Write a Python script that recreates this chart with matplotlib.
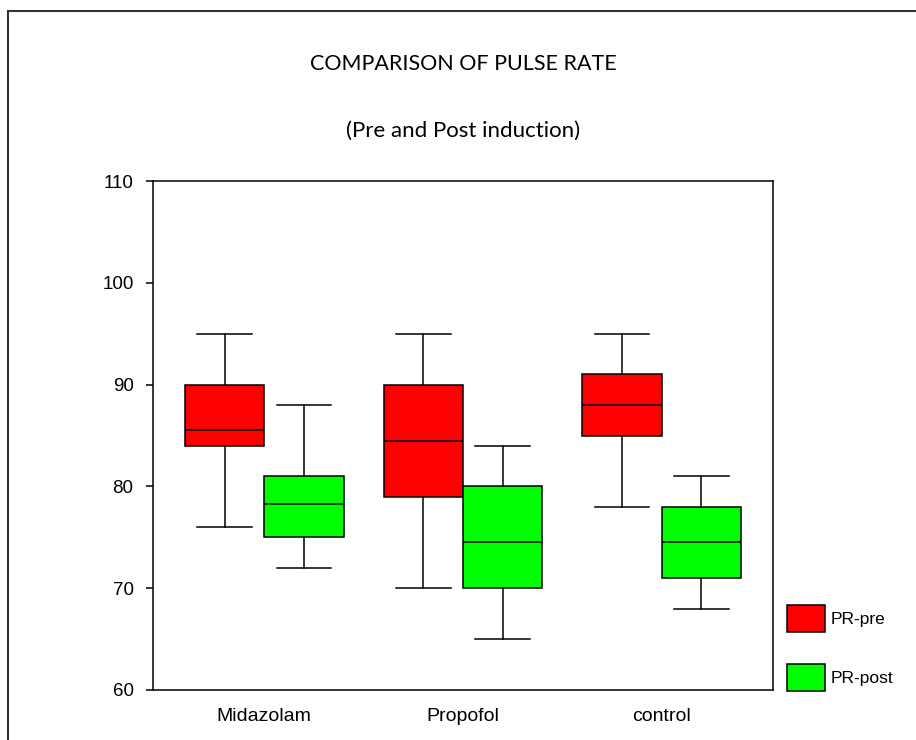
import matplotlib
matplotlib.use("Agg")
import matplotlib.pyplot as plt
from matplotlib.patches import Patch, Rectangle

groups = ["Midazolam", "Propofol", "control"]
series = ["PR-pre", "PR-post"]
colors = ["#ff0000", "#00ff00"]

# five-number summaries: low whisker, q1, median, q3, high whisker
pre_low = [76, 70, 78]
pre_q1 = [84, 79, 85]
pre_med = [85.5, 84.5, 88]
pre_q3 = [90, 90, 91]
pre_high = [95, 95, 95]

post_low = [72, 65, 68]
post_q1 = [75, 70, 71]
post_med = [78.3, 74.5, 74.5]
post_q3 = [81, 80, 78]
post_high = [88, 84, 81]

yticks = [60, 70, 80, 90, 100, 110]


def make_stats(low, q1, med, q3, high):
    return [dict(whislo=a, q1=b, med=c, q3=d, whishi=e, fliers=[])
            for a, b, c, d, e in zip(low, q1, med, q3, high)]


fig = plt.figure(figsize=(9.16, 7.40), dpi=100)
ax = fig.add_axes([153 / 916, 50 / 740, 620 / 916, 509 / 740])

all_stats = [make_stats(pre_low, pre_q1, pre_med, pre_q3, pre_high),
             make_stats(post_low, post_q1, post_med, post_q3, post_high)]
offsets = [-0.2, 0.2]
line = dict(color="black", linewidth=1.1)

for st, off, col in zip(all_stats, offsets, colors):
    pos = [i + off for i in range(len(groups))]
    ax.bxp(st, positions=pos, widths=0.4, capwidths=0.275, showfliers=False,
           patch_artist=True, manage_ticks=False,
           boxprops=dict(facecolor=col, edgecolor="black", linewidth=1.1),
           medianprops=line, whiskerprops=line, capprops=line)

ax.set_xlim(-0.56, 2.56)
ax.set_ylim(60, 110)
ax.set_yticks(yticks)
ax.set_yticklabels([str(v) for v in yticks], fontfamily="Liberation Sans", fontsize=13.5)
ax.set_xticks(range(len(groups)))
ax.set_xticklabels(groups, fontfamily="Liberation Sans", fontsize=14)
ax.tick_params(axis="y", length=5, width=1.1, pad=9, direction="out")
ax.tick_params(axis="x", length=0, pad=13)
for sp in ax.spines.values():
    sp.set_linewidth(1.1)

fig.text(463 / 916, 1 - 64 / 740, "COMPARISON OF PULSE RATE", ha="center", va="center",
         fontfamily="Lato", fontsize=15.5)
fig.text(463 / 916, 1 - 131 / 740, "(Pre and Post induction)", ha="center", va="center",
         fontfamily="Lato", fontsize=16)

handles = [Patch(facecolor=c, edgecolor="black", linewidth=1.1, label=s)
           for c, s in zip(colors, series)]
fig.legend(handles=handles, loc="upper left", bbox_to_anchor=(787 / 916, 1 - 605 / 740),
           frameon=False, borderpad=0, borderaxespad=0, handlelength=2.2,
           handleheight=2.04, labelspacing=1.84, handletextpad=0.3,
           prop=dict(family="Liberation Sans", size=12.5))

# outer frame, running off the right and bottom edges like the original
fig.add_artist(Rectangle((8 / 916, -0.1), 1.1, 1.1 - 11 / 740, transform=fig.transFigure,
                         fill=False, edgecolor="#333333", linewidth=1.5))

fig.savefig("out.png", dpi=100)
